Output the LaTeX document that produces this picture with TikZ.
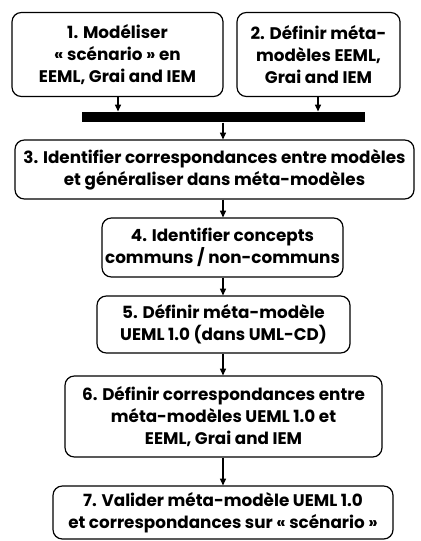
\documentclass[tikz,border=0pt]{standalone}
\usepackage{fontspec}
\setmainfont{Poppins}[UprightFont=* Bold,BoldFont=* Bold]
\usetikzlibrary{arrows.meta}

\tikzset{every picture/.style={line width=0.9pt}}
\tikzset{
  stepbox/.style={draw, rounded corners=7pt, align=center, inner sep=2pt,
    font=\fontsize{12.6}{16.5}\selectfont},
  flow/.style={-{Triangle[length=5pt,width=4.5pt]}}
}

\begin{document}
\begin{tikzpicture}[x=0.75pt,y=0.75pt,yscale=-1]
	% page frame
	\useasboundingbox (0,0) rectangle (420,541);

	% Step boxes
	\node[stepbox, minimum width=211*0.75pt, minimum height=84*0.75pt] (modeliser) at (117.5,54.5)
		{1. Modéliser\\« scénario » en\\EEML, Grai and IEM};
	\node[stepbox, minimum width=163*0.75pt, minimum height=84*0.75pt] (metamodeles) at (318.5,54.5)
		{2. Définir méta-\\modèles EEML,\\Grai and IEM};
	% Join bar
	\node[fill=black, inner sep=0pt, minimum width=283*0.75pt, minimum height=10*0.75pt] (bar) at (223.5,117) {};
	\node[stepbox, minimum width=399*0.75pt, minimum height=59*0.75pt] (identifier) at (214.5,169.5)
		{3. Identifier correspondances entre modèles\\et généraliser dans méta-modèles};
	\node[stepbox, minimum width=241*0.75pt, minimum height=59*0.75pt] (concepts) at (222.5,247.5)
		{4. Identifier concepts\\communs / non-communs};
	\node[stepbox, minimum width=253*0.75pt, minimum height=57*0.75pt] (ueml) at (223.5,324.5)
		{5. Définir méta-modèle\\UEML 1.0 (dans UML-CD)};
	\node[stepbox, minimum width=317*0.75pt, minimum height=81*0.75pt] (mapping) at (223.5,416.5)
		{6. Définir correspondances entre\\méta-modèles UEML 1.0 et\\EEML, Grai and IEM};
	\node[stepbox, minimum width=340*0.75pt, minimum height=53*0.75pt] (valider) at (223,512.5)
		{7. Valider méta-modèle UEML 1.0\\et correspondances sur « scénario »};

	% Arrows
	\draw[flow] (modeliser.south -| 118,0) -- (bar.north -| 118,0);
	\draw[flow] (metamodeles.south -| 318,0) -- (bar.north -| 318,0);
	\draw[flow] (bar.south -| 223,0) -- (identifier.north -| 223,0);
	\draw[flow] (identifier.south -| 223,0) -- (concepts.north -| 223,0);
	\draw[flow] (concepts.south -| 223,0) -- (ueml.north -| 223,0);
	\draw[flow] (ueml.south -| 223,0) -- (mapping.north -| 223,0);
	\draw[flow] (mapping.south -| 223,0) -- (valider.north -| 223,0);

\end{tikzpicture}
\end{document}
